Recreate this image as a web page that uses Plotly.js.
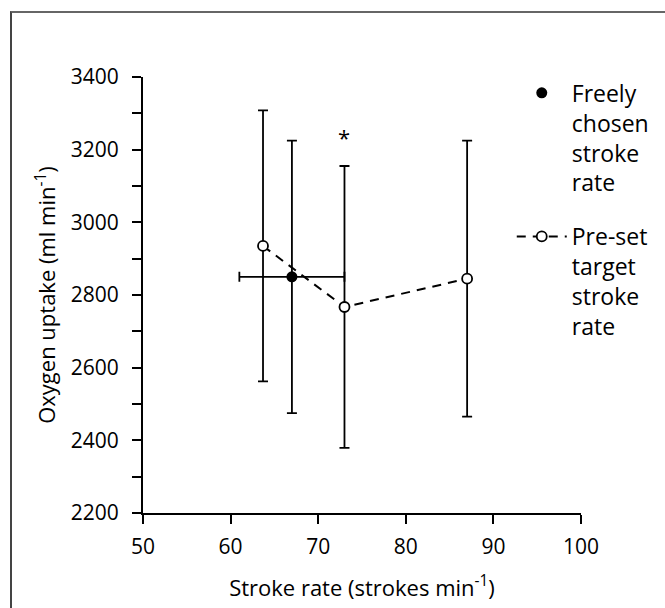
<!DOCTYPE html>
<html>
<head>
<meta charset="utf-8">
<script src="https://cdn.plot.ly/plotly-3.0.1.min.js"></script>
<style>
  html, body { margin: 0; padding: 0; background: #fff; }
  #frame { position: absolute; left: 10px; top: 11px; width: 700px; height: 650px;
           border-left: 2px solid #444; border-top: 2px solid #666; }
  #chart { position: absolute; left: 0; top: 0; width: 665px; height: 608px; }
</style>
</head>
<body>
<div id="frame"></div>
<div id="chart"></div>
<script>
// Freely chosen stroke rate (mean ± SD)
const freeX = [67.0];
const freeY = [2850];
const freeXErr = [6.0];
const freeYErr = [375];

// Pre-set target stroke rates (mean ± SD)
const presetX = [63.7, 73.0, 87.0];
const presetY = [2935, 2767, 2845];
const presetYErr = [373, 388, 380];

// Significance marker
const sigX = [73.0];
const sigY = [3236];
const sigText = ['*'];

const FONT = 'Open Sans, Liberation Sans, sans-serif';
const FS = 22;
const TFS = 21;

const traces = [
  {
    x: presetX, y: presetY, type: 'scatter', mode: 'lines+markers',
    name: 'Pre-set<br>target<br>stroke<br>rate',
    legendgroup: 'b', legendrank: 2,
    line: { color: '#000', width: 2, dash: '9px,7px' },
    marker: { symbol: 'circle', size: 10, color: '#fff', line: { color: '#000', width: 1.8 } },
    error_y: { type: 'data', array: presetYErr, visible: true, color: '#000', thickness: 1.8, width: 5 }
  },
  {
    x: freeX, y: freeY, type: 'scatter', mode: 'markers',
    name: 'Freely<br>chosen<br>stroke<br>rate',
    legendgroup: 'a', legendrank: 1,
    marker: { symbol: 'circle', size: 11, color: '#000' },
    error_y: { type: 'data', array: freeYErr, visible: true, color: '#000', thickness: 1.8, width: 5 },
    error_x: { type: 'data', array: freeXErr, visible: true, color: '#000', thickness: 1.8, width: 5 }
  }
];

const layout = {
  width: 665, height: 608,
  margin: { l: 143, r: 83, t: 77, b: 95 },
  paper_bgcolor: 'rgba(0,0,0,0)', plot_bgcolor: 'rgba(0,0,0,0)',
  font: { family: FONT, size: FS, color: '#000' },
  showlegend: true,
  legend: {
    x: 0.84, xanchor: 'left', y: 1.013, yanchor: 'top',
    traceorder: 'grouped', tracegroupgap: 21, valign: 'top',
    itemwidth: 50,
    font: { family: FONT, size: 23, color: '#000' },
    bgcolor: 'rgba(0,0,0,0)'
  },
  xaxis: {
    range: [50, 100], dtick: 10, tick0: 50,
    showgrid: false, zeroline: false,
    showline: true, linecolor: '#000', linewidth: 2,
    ticks: 'outside', ticklen: 9, tickwidth: 2, tickcolor: '#000',
    ticklabelstandoff: 5,
    tickfont: { family: FONT, size: TFS },
    title: { text: 'Stroke rate (strokes min<sup>-1</sup>)', font: { family: FONT, size: FS }, standoff: 21 }
  },
  yaxis: {
    range: [2200, 3400], dtick: 200, tick0: 2200,
    showgrid: false, zeroline: false,
    showline: true, linecolor: '#000', linewidth: 2,
    ticks: 'outside', ticklen: 9, tickwidth: 2, tickcolor: '#000',
    ticklabelstandoff: 9,
    tickfont: { family: FONT, size: TFS },
    minor: { dtick: 100, ticks: 'outside', ticklen: 9, tickwidth: 2, tickcolor: '#000', showgrid: false },
    title: { text: 'Oxygen uptake (ml min<sup>-1</sup>)', font: { family: FONT, size: FS }, standoff: 9 }
  },
  annotations: sigX.map((x, i) => ({
    x: x, y: sigY[i], text: sigText[i], showarrow: false, xref: 'x', yref: 'y',
    font: { family: FONT, size: 22, color: '#000' }
  }))
};

Plotly.newPlot('chart', traces, layout, { displayModeBar: false, staticPlot: true });
</script>
</body>
</html>
